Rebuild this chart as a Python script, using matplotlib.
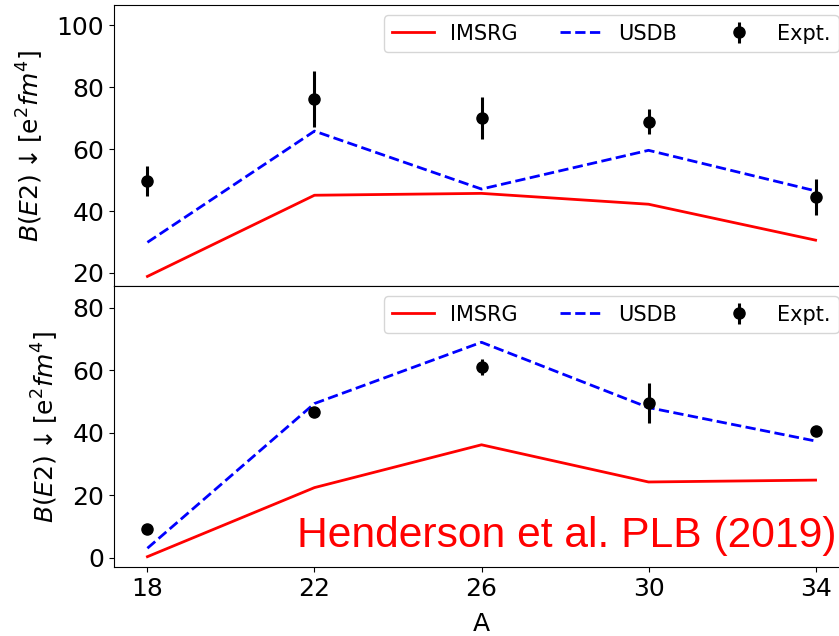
import matplotlib
matplotlib.use("Agg")
import matplotlib.pyplot as plt

# Mass numbers
A = [18, 22, 26, 30, 34]

# Top panel
imsrg_top = [18.9, 45.1, 45.7, 42.2, 30.6]
usdb_top = [29.9, 65.8, 47.1, 59.6, 46.5]
expt_top = [49.7, 76.1, 70.0, 68.8, 44.6]
expt_top_err = [4.8, 9.0, 6.8, 4.0, 5.8]

# Bottom panel
imsrg_bot = [0.4, 22.5, 36.2, 24.3, 24.9]
usdb_bot = [3.1, 49.4, 69.0, 48.1, 37.4]
expt_bot = [9.2, 46.7, 61.1, 49.7, 40.7]
expt_bot_err = [0.8, 1.0, 2.5, 6.4, 1.0]

plt.rcParams["font.size"] = 18

fig = plt.figure(figsize=(8.39, 6.36), dpi=100)
ax1 = fig.add_axes([0.1359, 0.5503, 0.876, 0.4418])
ax2 = fig.add_axes([0.1359, 0.1085, 0.876, 0.4418], sharex=ax1)

ylabel = r"$B(E2)\downarrow$[e$^2fm^4$]"

for ax, im, us, ex, er in [(ax1, imsrg_top, usdb_top, expt_top, expt_top_err),
                           (ax2, imsrg_bot, usdb_bot, expt_bot, expt_bot_err)]:
    ax.plot(A, im, color="red", lw=2, label="IMSRG")
    ax.plot(A, us, color="blue", lw=2, ls="--", label="USDB")
    ax.errorbar(A, ex, yerr=er, fmt="o", color="black", ms=8, elinewidth=2.2,
                label="Expt.")
    ax.legend(loc="upper right", ncol=3, fontsize=15, columnspacing=2.0)
    ax.set_ylabel(ylabel, labelpad=8)

ax1.set_ylim(15.8, 106.5)
ax1.set_yticks([20, 40, 60, 80, 100])
ax2.set_ylim(-2.9, 87.0)
ax2.set_yticks([0, 20, 40, 60, 80])
ax1.set_xlim(17.2, 34.8)
ax2.set_xticks(A)
ax1.tick_params(labelbottom=False, bottom=False)
ax2.set_xlabel("A", labelpad=8)

ax2.text(21.57, 3.5, "Henderson et al. PLB (2019)", color="red", fontsize=30.7,
         family="Liberation Sans", va="baseline")

fig.savefig("out.png", dpi=100)
